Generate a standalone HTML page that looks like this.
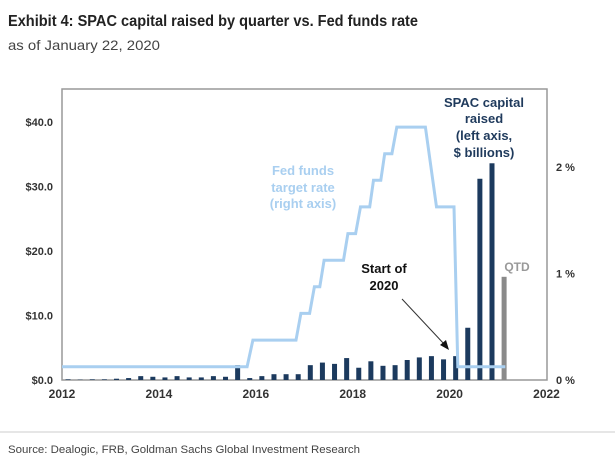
<!DOCTYPE html>
<html><head><meta charset="utf-8"><style>
html,body{margin:0;padding:0;background:#fff;}
svg{display:block;font-family:"Liberation Sans",sans-serif;}
</style></head><body>
<svg id="chart" width="615" height="470" viewBox="0 0 615 470">
<text x="8" y="26" font-size="16" font-weight="bold" fill="#222" textLength="410" lengthAdjust="spacingAndGlyphs">Exhibit 4: SPAC capital raised by quarter vs. Fed funds rate</text>
<text x="8" y="50" font-size="14" fill="#444" textLength="152" lengthAdjust="spacingAndGlyphs">as of January 22, 2020</text>
<rect x="62" y="89" width="485" height="291" fill="none" stroke="#999" stroke-width="1.5"/>
<g id="yL"></g>
<g id="yR"></g>
<g id="xA"></g>
<g id="bars"></g>
<path id="rate" fill="none" stroke="#a9cff0" stroke-width="3"/>
<g font-size="13" font-weight="bold" fill="#1f3a5c" text-anchor="middle">
<text x="484" y="107">SPAC capital</text><text x="484" y="123">raised</text><text x="484" y="140">(left axis,</text><text x="484" y="157">$ billions)</text></g>
<g font-size="13" font-weight="bold" fill="#a9cff0" text-anchor="middle">
<text x="303" y="175">Fed funds</text><text x="303" y="192">target rate</text><text x="303" y="208">(right axis)</text></g>
<g font-size="13" font-weight="bold" fill="#111" text-anchor="middle">
<text x="384" y="273">Start of</text><text x="384" y="290">2020</text></g>
<line x1="402" y1="299" x2="445" y2="345" stroke="#333" stroke-width="1"/>
<polygon points="449,350 440,345 446,340" fill="#111"/>
<text x="517" y="271" font-size="12" font-weight="bold" fill="#999" text-anchor="middle">QTD</text>
<line x1="0" y1="432" x2="615" y2="432" stroke="#ccc"/>
<text x="8" y="453" font-size="11" fill="#444" textLength="352" lengthAdjust="spacingAndGlyphs">Source: Dealogic, FRB, Goldman Sachs Global Investment Research</text>
</svg>
<script>
const leftTicks=[0,10,20,30,40];
const leftTickLabels=["$0.0","$10.0","$20.0","$30.0","$40.0"];
const rightTicks=[0,1,2];
const rightTickLabels=["0 %","1 %","2 %"];
const xTicks=[2012,2014,2016,2018,2020,2022];
const barDates=[2012.125,2012.375,2012.625,2012.875,2013.125,2013.375,2013.625,2013.875,2014.125,2014.375,2014.625,2014.875,2015.125,2015.375,2015.625,2015.875,2016.125,2016.375,2016.625,2016.875,2017.125,2017.375,2017.625,2017.875,2018.125,2018.375,2018.625,2018.875,2019.125,2019.375,2019.625,2019.875,2020.125,2020.375,2020.625,2020.875,2021.125];
const barValues=[0.1,0.05,0.1,0.1,0.2,0.3,0.6,0.5,0.4,0.6,0.4,0.4,0.6,0.5,2.3,0.3,0.6,0.9,0.9,0.9,2.3,2.7,2.5,3.4,1.9,2.9,2.2,2.3,3.1,3.5,3.7,3.2,3.7,8.1,31.2,33.6,16.0];
const barIsQTD=[0,0,0,0,0,0,0,0,0,0,0,0,0,0,0,0,0,0,0,0,0,0,0,0,0,0,0,0,0,0,0,0,0,0,0,0,1];
const rateDates=[2012,2015.82,2015.94,2016.83,2016.93,2017.11,2017.21,2017.32,2017.41,2017.81,2017.9,2018.06,2018.16,2018.35,2018.43,2018.58,2018.66,2018.81,2018.91,2019.5,2019.73,2020.09,2020.17,2021.15];
const rateValues=[0.125,0.125,0.375,0.375,0.625,0.625,0.875,0.875,1.125,1.125,1.375,1.375,1.625,1.625,1.875,1.875,2.125,2.125,2.375,2.375,1.625,1.625,0.125,0.125];
const X=d=>62+(d-2012)*48.45;
const YL=v=>380-v*6.45;
const YR=v=>380-v*106.5;
const NS="http://www.w3.org/2000/svg";
function mk(tag,parent,attrs,txt){const e=document.createElementNS(NS,tag);for(const k in attrs)e.setAttribute(k,attrs[k]);if(txt!==undefined)e.textContent=txt;parent.appendChild(e);return e;}
const yL=document.getElementById('yL'),yR=document.getElementById('yR'),xA=document.getElementById('xA'),bars=document.getElementById('bars');
leftTicks.forEach((v,i)=>{const t=mk('text',yL,{x:53,y:YL(v)+4,'font-size':11,'font-weight':'bold','fill':'#333','text-anchor':'end'},leftTickLabels[i]);

});
rightTicks.forEach((v,i)=>{const t=mk('text',yR,{x:556,y:YR(v)+4,'font-size':11,'font-weight':'bold','fill':'#333'},rightTickLabels[i]);

});
xTicks.forEach(v=>{const t=mk('text',xA,{x:X(v),y:398,'font-size':12,'font-weight':'bold','fill':'#333','text-anchor':'middle'},String(v));

});
barDates.forEach((d,i)=>{const y=YL(barValues[i]);const r=mk('rect',bars,{x:X(d)-2.5,y:y,width:5,height:380-y,fill:barIsQTD[i]?'#8a8a8a':'#1c3a5e'});

});
let p='';rateDates.forEach((d,i)=>{p+=(i?'L':'M')+X(d).toFixed(1)+','+YR(rateValues[i]).toFixed(1);});
document.getElementById('rate').setAttribute('d',p);
</script>
</body></html>
